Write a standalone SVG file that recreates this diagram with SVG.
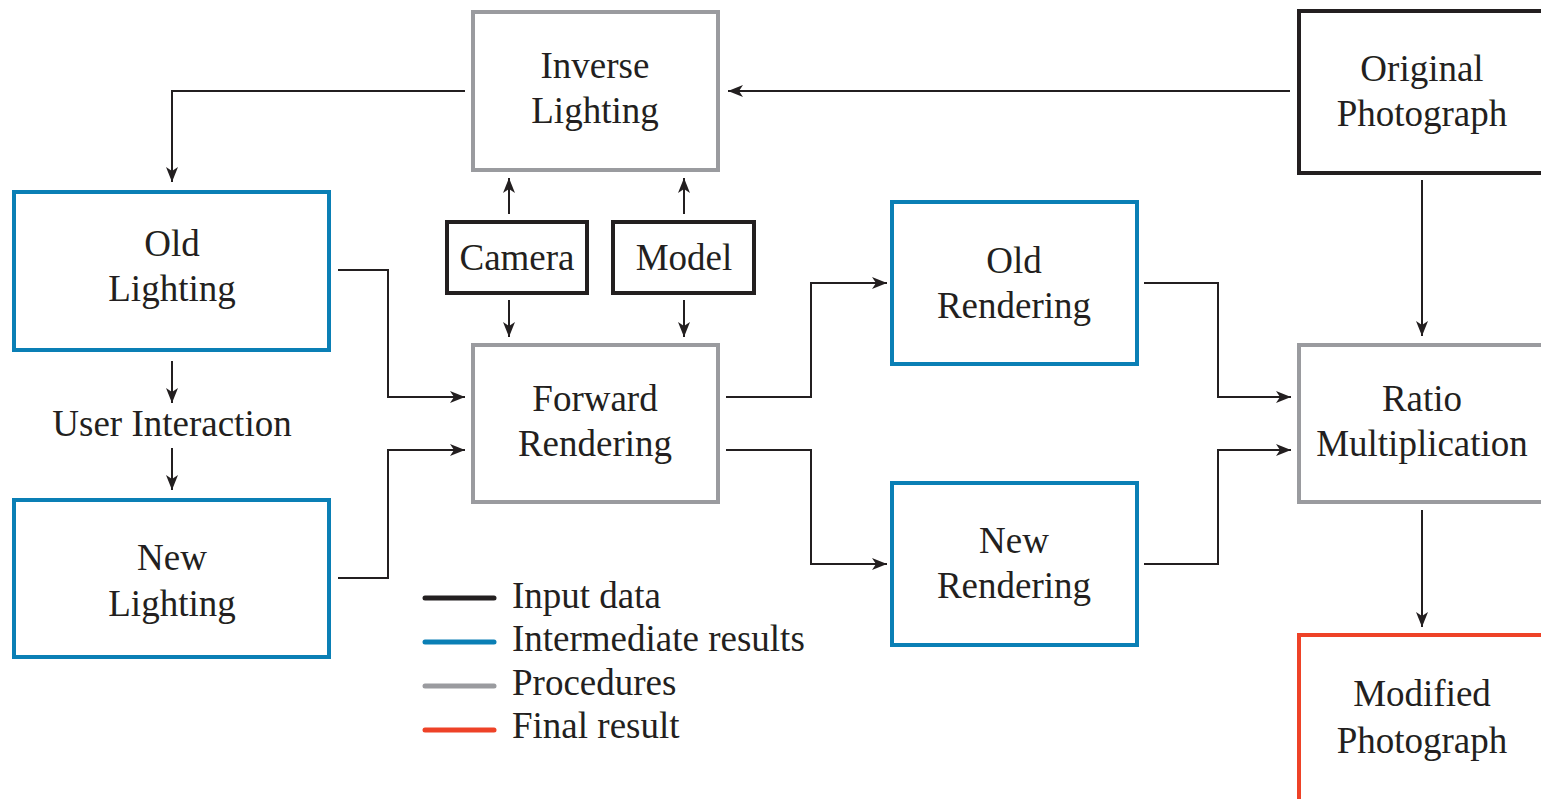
<svg xmlns="http://www.w3.org/2000/svg" width="1541" height="799" viewBox="0 0 1541 799">
<style>
text{font-family:"Liberation Serif","Times New Roman",serif;font-size:37px;fill:#231f20;text-anchor:middle}
.lg{text-anchor:start;font-size:37px}
.box{fill:#fff;stroke-width:4}
.inp{stroke:#231f20}
.mid{stroke:#0a7fb5}
.proc{stroke:#9a9b9f}
.fin{stroke:#ee4227}
.c{fill:none;stroke:#231f20;stroke-width:2}
.leg{stroke-width:5;stroke-linecap:round}
</style>
<defs>
<marker id="ah" markerUnits="userSpaceOnUse" markerWidth="16" markerHeight="12" refX="15" refY="6" orient="auto">
<path d="M0,0 L15,6 L0,12 L4,6 Z" fill="#231f20"/>
</marker>
</defs>
<rect width="1541" height="799" fill="#fff"/>
<g id="inverse-lighting"><rect class="box proc" x="473" y="12" width="245" height="158"/><text x="595" y="78">Inverse</text><text x="595" y="123">Lighting</text></g>
<g id="original-photograph"><rect class="box inp" x="1299" y="11" width="260" height="162"/><text x="1422" y="81">Original</text><text x="1422" y="126">Photograph</text></g>
<g id="old-lighting"><rect class="box mid" x="14" y="192" width="315" height="158"/><text x="172" y="256">Old</text><text x="172" y="301">Lighting</text></g>
<g id="new-lighting"><rect class="box mid" x="14" y="500" width="315" height="157"/><text x="172" y="570">New</text><text x="172" y="616">Lighting</text></g>
<g id="user-interaction"><text x="172" y="436">User Interaction</text></g>
<g id="camera"><rect class="box inp" x="447" y="222" width="140" height="71"/><text x="517" y="270">Camera</text></g>
<g id="model"><rect class="box inp" x="613" y="222" width="141" height="71"/><text x="684" y="270">Model</text></g>
<g id="forward-rendering"><rect class="box proc" x="473" y="345" width="245" height="157"/><text x="595" y="411">Forward</text><text x="595" y="456">Rendering</text></g>
<g id="old-rendering"><rect class="box mid" x="892" y="202" width="245" height="162"/><text x="1014" y="273">Old</text><text x="1014" y="318">Rendering</text></g>
<g id="new-rendering"><rect class="box mid" x="892" y="483" width="245" height="162"/><text x="1014" y="553">New</text><text x="1014" y="598">Rendering</text></g>
<g id="ratio-multiplication"><rect class="box proc" x="1299" y="345" width="260" height="157"/><text x="1422" y="411">Ratio</text><text x="1422" y="456">Multiplication</text></g>
<g id="modified-photograph"><rect class="box fin" x="1299" y="635" width="260" height="180"/><text x="1422" y="706">Modified</text><text x="1422" y="753">Photograph</text></g>
<g id="connectors">
<path class="c" d="M465,91 H172 V182" marker-end="url(#ah)"/>
<path class="c" d="M1290,91 H728" marker-end="url(#ah)"/>
<path class="c" d="M509,214 V178" marker-end="url(#ah)"/>
<path class="c" d="M509,300 V337" marker-end="url(#ah)"/>
<path class="c" d="M684,214 V178" marker-end="url(#ah)"/>
<path class="c" d="M684,300 V337" marker-end="url(#ah)"/>
<path class="c" d="M338,270 H388 V397 H465" marker-end="url(#ah)"/>
<path class="c" d="M338,578 H388 V450 H465" marker-end="url(#ah)"/>
<path class="c" d="M172,361 V403" marker-end="url(#ah)"/>
<path class="c" d="M172,448 V490" marker-end="url(#ah)"/>
<path class="c" d="M726,397 H811 V283 H887" marker-end="url(#ah)"/>
<path class="c" d="M726,450 H811 V564 H887" marker-end="url(#ah)"/>
<path class="c" d="M1144,283 H1218 V397 H1291" marker-end="url(#ah)"/>
<path class="c" d="M1144,564 H1218 V450 H1291" marker-end="url(#ah)"/>
<path class="c" d="M1422,180 V336" marker-end="url(#ah)"/>
<path class="c" d="M1422,510 V627" marker-end="url(#ah)"/>
</g>
<g id="legend">
<line class="leg inp" x1="425" y1="598" x2="494" y2="598"/>
<line class="leg mid" x1="425" y1="642" x2="494" y2="642"/>
<line class="leg proc" x1="425" y1="686" x2="494" y2="686"/>
<line class="leg fin" x1="425" y1="730" x2="494" y2="730"/>
<text class="lg" x="512" y="608">Input data</text>
<text class="lg" x="512" y="651">Intermediate results</text>
<text class="lg" x="512" y="695">Procedures</text>
<text class="lg" x="512" y="738">Final result</text>
</g>
</svg>
